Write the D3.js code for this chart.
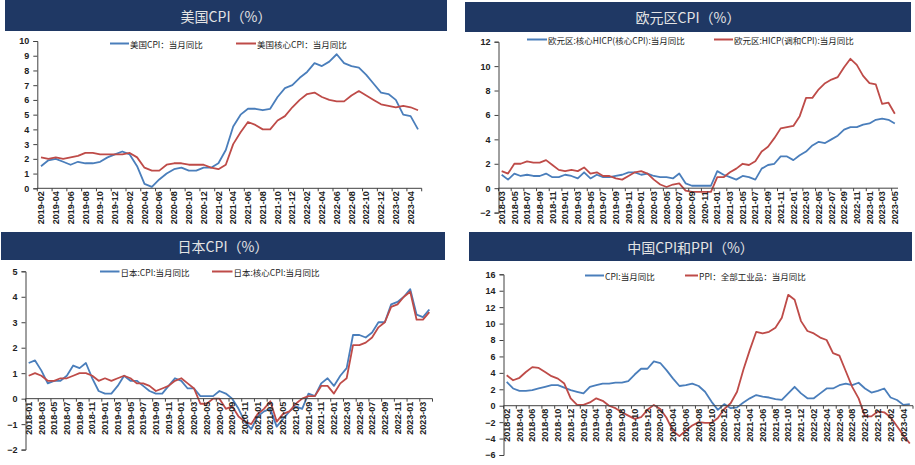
<!DOCTYPE html>
<html><head><meta charset="utf-8">
<script src="https://cdn.jsdelivr.net/npm/d3@7"></script>
<style>body{margin:0;background:#fff;} svg{display:block;}</style>
</head><body>
<svg id="c" width="915" height="465"></svg>
<script>
function months(start, end){
  const out=[]; let [y,m]=start.split('-').map(Number); const [ey,em]=end.split('-').map(Number);
  while(y<ey || (y===ey && m<=em)){ out.push(y+'-'+String(m).padStart(2,'0')); m++; if(m>12){m=1;y++;} }
  return out;
}

// ---------- US ----------
const usMonths = months('2019-02','2023-05');
const usCPI = [1.5,1.9,2.0,1.8,1.6,1.8,1.7,1.7,1.8,2.1,2.3,
  2.5,2.3,1.5,0.3,0.1,0.6,1.0,1.3,1.4,1.2,1.2,1.4,
  1.4,1.7,2.6,4.2,5.0,5.4,5.4,5.3,5.4,6.2,6.8,7.0,
  7.5,7.9,8.5,8.3,8.6,9.1,8.5,8.3,8.2,7.7,7.1,6.5,
  6.4,6.0,5.0,4.9,4.0];
const usCore = [2.1,2.0,2.1,2.0,2.1,2.2,2.4,2.4,2.3,2.3,2.3,
  2.3,2.4,2.1,1.4,1.2,1.2,1.6,1.7,1.7,1.6,1.6,1.6,
  1.4,1.3,1.6,3.0,3.8,4.5,4.3,4.0,4.0,4.6,4.9,5.5,
  6.0,6.4,6.5,6.2,6.0,5.9,5.9,6.3,6.6,6.3,6.0,5.7,
  5.6,5.5,5.6,5.5,5.3];
const usTicks = [0,1,2,3,4,5,6,7,8,9,10];

// ---------- Euro area ----------
const euMonths = months('2018-03','2023-05');
const euCore = [1.1,0.7,1.2,1.0,1.1,1.0,1.0,1.2,0.9,0.9,
  1.1,1.0,0.8,1.3,0.8,1.1,0.9,0.9,1.0,1.1,1.3,1.3,
  1.1,1.2,1.0,0.9,0.9,0.8,1.2,0.4,0.2,0.2,0.2,0.2,
  1.4,1.1,0.9,0.7,1.0,0.9,0.7,1.6,1.9,2.0,2.6,2.6,
  2.3,2.7,3.0,3.5,3.8,3.7,4.0,4.3,4.8,5.0,5.0,5.2,
  5.3,5.6,5.7,5.6,5.3];
const euHICP = [1.4,1.2,2.0,2.0,2.2,2.1,2.1,2.3,1.9,1.5,
  1.4,1.5,1.4,1.7,1.2,1.3,1.0,1.0,0.8,0.7,1.0,1.3,
  1.4,1.2,0.7,0.3,0.1,0.3,0.4,-0.2,-0.3,-0.3,-0.3,-0.3,
  0.9,0.9,1.3,1.6,2.0,1.9,2.2,3.0,3.4,4.1,4.9,5.0,
  5.1,5.9,7.4,7.4,8.1,8.6,8.9,9.1,9.9,10.6,10.1,9.2,
  8.6,8.5,6.9,7.0,6.1];
const euTicks = [-2,0,2,4,6,8,10,12];

// ---------- Japan ----------
const jpMonths = months('2018-01','2023-04');
const jpCPI = [1.4,1.5,1.1,0.6,0.7,0.7,0.9,1.3,1.2,1.4,0.8,0.3,
  0.2,0.2,0.5,0.9,0.7,0.7,0.5,0.3,0.2,0.2,0.5,0.8,
  0.7,0.4,0.4,0.1,0.1,0.1,0.3,0.2,0.0,-0.4,-0.9,-1.2,
  -0.7,-0.5,-0.4,-1.1,-0.8,-0.5,-0.3,-0.4,0.2,0.1,0.6,0.8,
  0.5,0.9,1.2,2.5,2.5,2.4,2.6,3.0,3.0,3.7,3.8,4.0,
  4.3,3.3,3.2,3.5];
const jpCore = [0.9,1.0,0.9,0.7,0.7,0.8,0.8,0.9,1.0,1.0,0.9,0.7,
  0.8,0.7,0.8,0.9,0.8,0.6,0.6,0.5,0.3,0.4,0.5,0.7,
  0.8,0.6,0.4,-0.2,-0.2,0.0,0.0,-0.4,-0.3,-0.7,-0.9,-1.0,
  -0.6,-0.4,-0.1,-0.9,-0.6,-0.5,-0.2,0.0,0.1,0.1,0.5,0.5,
  0.2,0.6,0.8,2.1,2.1,2.2,2.4,2.8,3.0,3.6,3.7,4.0,
  4.2,3.1,3.1,3.4];
const jpTicks = [-2,-1,0,1,2,3,4,5];

// ---------- China ----------
const cnMonths = months('2018-02','2023-05');
const cnCPI = [2.9,2.1,1.8,1.8,1.9,2.1,2.3,2.5,2.5,2.2,1.9,
  1.7,1.5,2.3,2.5,2.7,2.7,2.8,2.8,3.0,3.8,4.5,4.5,
  5.4,5.2,4.3,3.3,2.4,2.5,2.7,2.4,1.7,0.5,-0.5,0.2,
  -0.3,-0.2,0.4,0.9,1.3,1.1,1.0,0.8,0.7,1.5,2.3,1.5,
  0.9,0.9,1.5,2.1,2.1,2.5,2.7,2.5,2.8,2.1,1.6,1.8,
  2.1,1.0,0.7,0.1,0.2];
const cnPPI = [3.7,3.1,3.4,4.1,4.7,4.6,4.1,3.6,3.3,2.7,0.9,
  0.1,0.1,0.4,0.9,0.6,0.0,-0.3,-0.8,-1.2,-1.6,-1.4,-0.5,
  0.1,-0.4,-1.5,-3.1,-3.7,-3.0,-2.4,-2.0,-2.1,-2.1,-1.5,-0.4,
  0.3,1.7,4.4,6.8,9.0,8.8,9.0,9.5,10.7,13.5,12.9,10.3,
  9.1,8.8,8.3,8.0,6.4,6.1,4.2,2.3,0.9,-1.3,-1.3,-0.7,
  -0.8,-1.4,-2.5,-3.6,-4.6];
const cnTicks = [-6,-4,-2,0,2,4,6,8,10,12,14,16];

const BLUE = '#4a7ebb', RED = '#be4b48', NAVY = '#1f3864';
const svg = d3.select('#c');

const panels = [
  { title:'美国CPI（%）', bar:[5,0,442,31], titleY:16,
    cats:usMonths, series:[{name:'美国CPI：当月同比',v:usCPI,c:BLUE},{name:'美国核心CPI：当月同比',v:usCore,c:RED}],
    ticks:usTicks, xr:[37.3,421.7], yd:[0,10], yr:[188.3,41],
    legY:43.5, leg:[[110,129],[236,256]] },
  { title:'欧元区CPI（%）', bar:[465,2,446,30], titleY:17,
    cats:euMonths, series:[{name:'欧元区:核心HICP(核心CPI):当月同比',v:euCore,c:BLUE},{name:'欧元区:HICP(调和CPI):当月同比',v:euHICP,c:RED}],
    ticks:euTicks, xr:[498.5,898], yd:[-2,12], yr:[212.6,41.7],
    legY:39.5, leg:[[527,547],[714,733]] },
  { title:'日本CPI（%）', bar:[1,232,444,28], titleY:246,
    cats:jpMonths, series:[{name:'日本:CPI:当月同比',v:jpCPI,c:BLUE},{name:'日本:核心CPI:当月同比',v:jpCore,c:RED}],
    ticks:jpTicks, xr:[25.5,432.5], yd:[-2,5], yr:[449.6,271.3],
    legY:271.5, leg:[[100,119.5],[212,232.5]] },
  { title:'中国CPI和PPI（%）', bar:[469,232,443,29], titleY:246.5,
    cats:cnMonths, series:[{name:'CPI:当月同比',v:cnCPI,c:BLUE},{name:'PPI：全部工业品：当月同比',v:cnPPI,c:RED}],
    ticks:cnTicks, xr:[503.5,913], yd:[-6,16], yr:[455,274.3],
    legY:275.5, leg:[[585,604],[685,698]] }
];

panels.forEach(p => {
  const g = svg.append('g');
  g.append('rect').attr('x',p.bar[0]).attr('y',p.bar[1]).attr('width',p.bar[2]).attr('height',p.bar[3]).attr('fill',NAVY);
  g.append('text').attr('x',p.bar[0]+p.bar[2]/2).attr('y',p.titleY).attr('text-anchor','middle')
    .attr('dominant-baseline','central').attr('font-family','"Noto Sans CJK SC", sans-serif')
    .attr('font-size',14).attr('fill','#e4e4e4').text(p.title);

  const x = d3.scaleBand().domain(p.cats).range(p.xr);
  const y = d3.scaleLinear().domain(p.yd).range(p.yr);
  const y0 = y(0);

  // y axis
  const ya = d3.axisLeft(y).tickValues(p.ticks).tickSize(4).tickPadding(4).tickFormat(d3.format('d'));
  const yg = g.append('g').attr('transform',`translate(${p.xr[0]},0)`).call(ya);
  yg.select('.domain').attr('stroke','#404040');
  yg.selectAll('.tick line').attr('stroke','#404040');
  yg.selectAll('text').attr('font-family','"Liberation Sans", Arial, sans-serif').attr('font-size',9)
    .attr('font-weight','bold').attr('fill','#222');

  // lines
  p.series.forEach(s => {
    const line = d3.line().x((d,i)=>x(p.cats[i])+x.bandwidth()/2).y(d=>y(d));
    g.append('path').datum(s.v).attr('d',line).attr('fill','none').attr('stroke',s.c)
      .attr('stroke-width',1.8).attr('stroke-linejoin','round');
  });

  // x axis line at 0
  g.append('line').attr('x1',p.xr[0]).attr('x2',p.xr[1]).attr('y1',y0).attr('y2',y0).attr('stroke','#404040');
  const bw = x.step();
  const tickIdx = d3.range(0, p.cats.length+1, 2);
  g.selectAll('.xt').data(tickIdx).enter().append('line')
    .attr('x1',i=>p.xr[0]+i*bw).attr('x2',i=>p.xr[0]+i*bw).attr('y1',y0).attr('y2',y0+3).attr('stroke','#404040');
  const labCats = p.cats.filter((c,i)=>i%2===0);
  g.selectAll('.xl').data(labCats).enter().append('text')
    .attr('transform',c=>`translate(${x(c)+x.bandwidth()/2},${y0+3}) rotate(-90)`)
    .attr('text-anchor','end').attr('dy','0.35em')
    .attr('font-family','"Liberation Sans", Arial, sans-serif').attr('font-size',9).attr('font-weight','bold')
    .attr('fill','#222').text(c=>c);

  // legend
  p.series.forEach((s,i) => {
    const [a,b] = p.leg[i];
    g.append('line').attr('x1',a).attr('x2',b).attr('y1',p.legY).attr('y2',p.legY).attr('stroke',s.c).attr('stroke-width',2);
    g.append('text').attr('x',b+1).attr('y',p.legY).attr('dominant-baseline','central')
      .attr('font-family','"Noto Sans CJK SC", sans-serif').attr('font-size',8.5).attr('fill','#222').text(s.name);
  });
});
</script>
</body></html>
